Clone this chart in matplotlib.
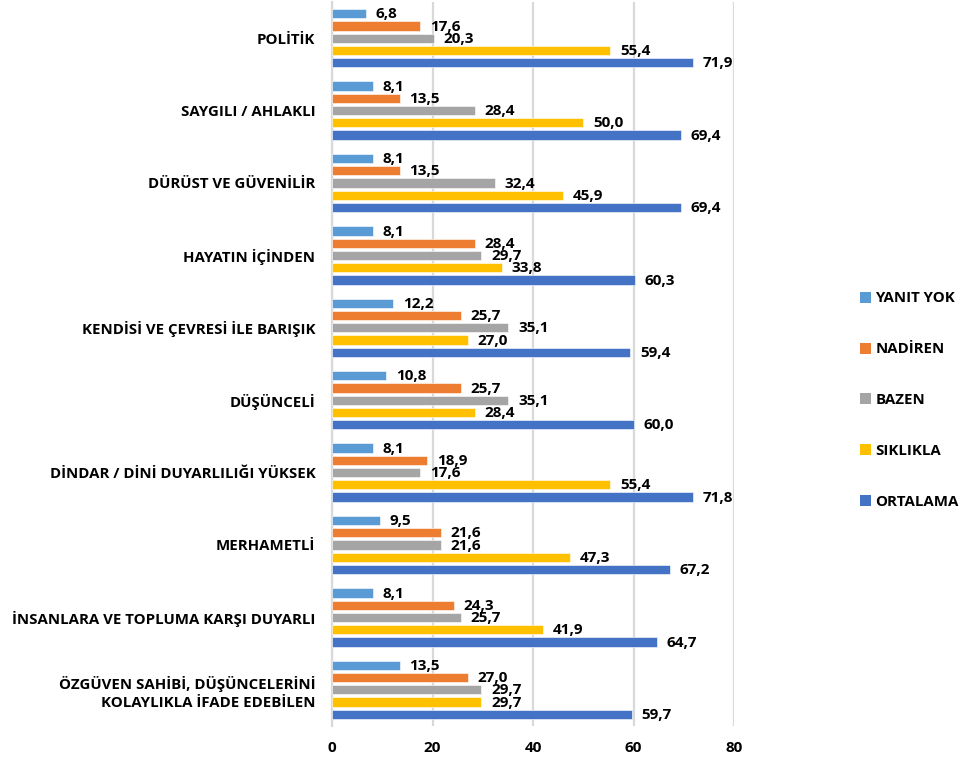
import matplotlib
matplotlib.use("Agg")
import matplotlib.pyplot as plt
import numpy as np
from matplotlib.patches import Patch

plt.rcParams['font.family'] = ['Open Sans', 'DejaVu Sans']
plt.rcParams['font.weight'] = 'bold'

categories = [
    "POLİTİK",
    "SAYGILI / AHLAKLI",
    "DÜRÜST VE GÜVENİLİR",
    "HAYATIN İÇİNDEN",
    "KENDİSİ VE ÇEVRESİ İLE BARIŞIK",
    "DÜŞÜNCELİ",
    "DİNDAR / DİNİ DUYARLILIĞI YÜKSEK",
    "MERHAMETLİ",
    "İNSANLARA VE TOPLUMA KARŞI DUYARLI",
    "ÖZGÜVEN SAHİBİ, DÜŞÜNCELERİNİ\nKOLAYLIKLA İFADE EDEBİLEN",
]

yanit_yok = [6.8, 8.1, 8.1, 8.1, 12.2, 10.8, 8.1, 9.5, 8.1, 13.5]
nadiren = [17.6, 13.5, 13.5, 28.4, 25.7, 25.7, 18.9, 21.6, 24.3, 27.0]
bazen = [20.3, 28.4, 32.4, 29.7, 35.1, 35.1, 17.6, 21.6, 25.7, 29.7]
siklikla = [55.4, 50.0, 45.9, 33.8, 27.0, 28.4, 55.4, 47.3, 41.9, 29.7]
ortalama = [71.9, 69.4, 69.4, 60.3, 59.4, 60.0, 71.8, 67.2, 64.7, 59.7]

series_names = ["YANIT YOK", "NADİREN", "BAZEN", "SIKLIKLA", "ORTALAMA"]
series_values = [yanit_yok, nadiren, bazen, siklikla, ortalama]
colors = ["#5B9BD5", "#ED7D31", "#A5A5A5", "#FFC000", "#4472C4"]
x_ticks = [0, 20, 40, 60, 80]

fig = plt.figure(figsize=(9.63, 7.65), dpi=100)
ax = fig.add_axes([332 / 963, 1 - 726 / 765, (734 - 332) / 963, 724 / 765])

n = len(categories)
centers = np.arange(n)
pitch = 0.169
bar_h = 0.128
fs_cat = 10.8
fs_val = 11.0

for k, (name, vals, col) in enumerate(zip(series_names, series_values, colors)):
    ys = centers + (k - 2) * pitch
    ax.barh(ys, vals, height=bar_h, color=col, edgecolor='white',
            linewidth=0.4, zorder=3, label=name)
    for y, v in zip(ys, vals):
        # baseline of each value sits at the lower edge of its bar
        ax.annotate(f"{v:.1f}".replace('.', ','), (v, y + bar_h / 2),
                    xytext=(7, 0), textcoords='offset points',
                    ha='left', va='baseline', fontsize=fs_val,
                    fontweight='bold', color='#000000', zorder=4)

ax.set_xlim(0, 80)
ax.set_ylim(n - 0.5, -0.5)
ax.set_xticks(x_ticks)
ax.set_xticklabels([str(t) for t in x_ticks], fontsize=fs_val, fontweight='bold')
ax.set_yticks(centers)
ax.set_yticklabels(categories, fontsize=fs_cat, fontweight='bold', linespacing=1.35)
ax.tick_params(axis='both', length=0)
ax.tick_params(axis='y', pad=12)
ax.tick_params(axis='x', pad=11)

ax.grid(axis='x', color='#D9D9D9', linewidth=1.6, zorder=0)
for s in ['top', 'right', 'bottom']:
    ax.spines[s].set_visible(False)
ax.spines['left'].set_color('#D9D9D9')
ax.spines['left'].set_linewidth(1.6)
ax.spines['left'].set_zorder(2)

handles = [Patch(facecolor=c, edgecolor='none') for c in colors]
fig.legend(handles, series_names, loc='center left',
           bbox_to_anchor=(846 / 963, 1 - 400 / 765), frameon=False,
           prop={'size': fs_cat, 'weight': 'bold'},
           handlelength=0.75, handleheight=0.75, handletextpad=0.3,
           labelspacing=2.45)

fig.savefig("out.png", dpi=100)
